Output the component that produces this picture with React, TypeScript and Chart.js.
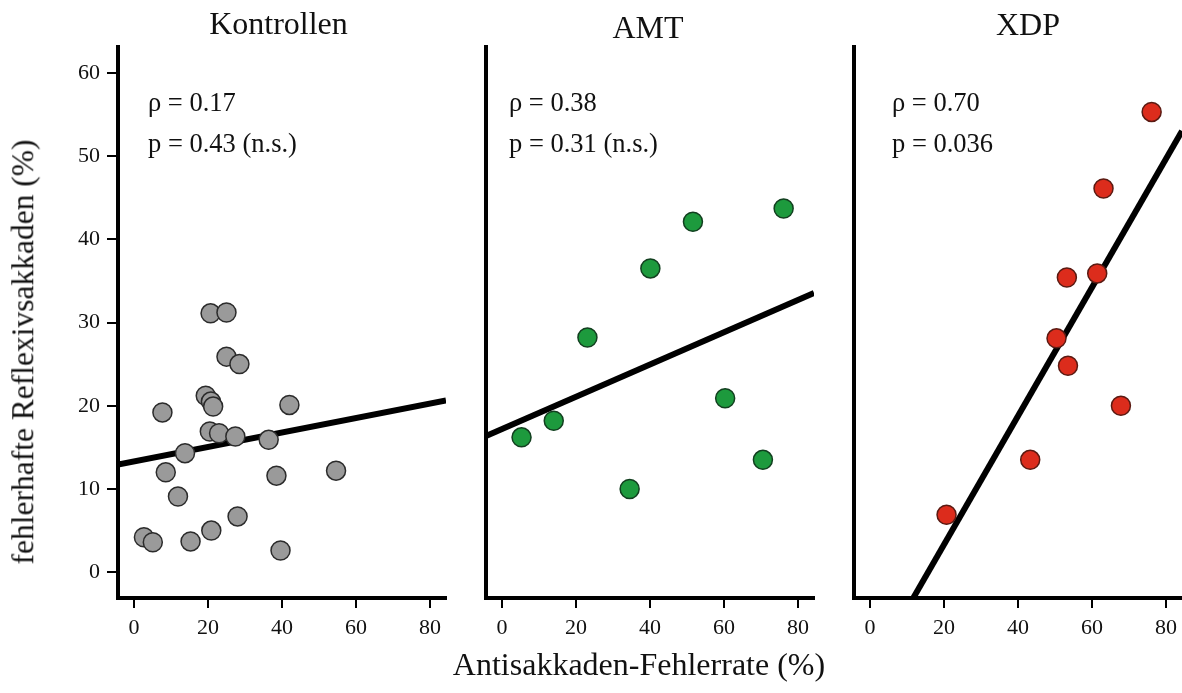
import React, { useEffect, useRef } from "react";
import { Chart, registerables } from "chart.js";

Chart.register(...registerables);

// ---------- data ----------
const xTicks = [0, 20, 40, 60, 80];
const yTicks = [0, 10, 20, 30, 40, 50, 60];
const X_MIN = -4.3;
const X_MAX = 84.3;
const Y_MIN = -3.1;
const Y_MAX = 63.1;

const kontrollenX = [20.7, 25.0, 25.0, 28.5, 19.4, 20.8, 21.4, 7.7, 42.0, 20.5, 23.0, 27.4, 36.4, 13.8, 8.6, 54.6, 38.5, 11.9, 28.0, 20.9, 2.7, 5.1, 15.3, 39.6];
const kontrollenY = [31.1, 31.2, 25.9, 25.0, 21.2, 20.5, 19.9, 19.2, 20.1, 16.9, 16.7, 16.3, 15.9, 14.3, 12.0, 12.2, 11.6, 9.1, 6.7, 5.0, 4.2, 3.6, 3.7, 2.6];

const amtX = [5.3, 14.0, 23.1, 40.1, 51.6, 76.1, 60.3, 70.5, 34.5];
const amtY = [16.2, 18.2, 28.2, 36.5, 42.1, 43.7, 20.9, 13.5, 10.0];

const xdpX = [76.1, 63.1, 53.2, 61.4, 50.4, 53.5, 67.8, 43.3, 20.7];
const xdpY = [55.3, 46.1, 35.4, 35.9, 28.1, 24.8, 20.0, 13.5, 6.9];

const panelTitles = ["Kontrollen", "AMT", "XDP"];
const rhoLabels = ["\u03C1 = 0.17", "\u03C1 = 0.38", "\u03C1 = 0.70"];
const pLabels = ["p = 0.43 (n.s.)", "p = 0.31 (n.s.)", "p = 0.036"];
const fitIntercepts = [13.3, 17.2, -12.15];
const fitSlopes = [0.087, 0.194, 0.773];
const yAxisTitle = "fehlerhafte Reflexivsakkaden (%)";
const xAxisTitle = "Antisakkaden-Fehlerrate (%)";

// ---------- layout / style ----------
const W = 1182;
const H = 693;
const PLOT_TOP = 47;
const PLOT_BOTTOM = 598;
const panelLeft = [118, 486, 854];
const panelRight = [446, 814, 1182];
const SERIF = "'Liberation Serif', 'Times New Roman', Times, serif";

const fills = ["#9a9a9a", "#1d9a3d", "#dc2c1c"];
const strokes = ["#2b2b2b", "#123f1f", "#5a1a12"];

const titleCenters = [278.5, 648, 1028];
const titleBaselines = [33.3, 37.5, 35.2];
const annotLeft = [148, 509, 892];
const annotBaselines = [111, 152];

type PanelProps = { idx: number; xs: number[]; ys: number[] };

function Panel({ idx, xs, ys }: PanelProps) {
  const ref = useRef<HTMLCanvasElement | null>(null);
  useEffect(() => {
    if (!ref.current) return;
    const showY = idx === 0;
    const pts = xs.map((x, i) => ({ x, y: ys[i] }));
    const b = fitIntercepts[idx];
    const m = fitSlopes[idx];
    let x0 = X_MIN;
    if (b + m * x0 < Y_MIN) x0 = (Y_MIN - b) / m;
    let x1 = X_MAX;
    if (b + m * x1 > Y_MAX) x1 = (Y_MAX - b) / m;
    const fit = [
      { x: x0, y: b + m * x0 },
      { x: x1, y: b + m * x1 },
    ];
    const left = panelLeft[idx];
    const right = panelRight[idx];
    const chart = new Chart(ref.current, {
      type: "scatter",
      data: {
        datasets: [
          {
            data: pts,
            backgroundColor: fills[idx],
            borderColor: strokes[idx],
            borderWidth: 1.5,
            pointRadius: 9.5,
            pointHoverRadius: 9.5,
            order: 0,
          } as any,
          {
            type: "line",
            data: fit,
            borderColor: "#000",
            borderWidth: 6,
            pointRadius: 0,
            pointHoverRadius: 0,
            fill: false,
            borderCapStyle: "butt",
            order: 1,
          } as any,
        ],
      },
      options: {
        responsive: false,
        animation: false,
        devicePixelRatio: 1,
        events: [],
        layout: {
          autoPadding: false,
          padding: { left: showY ? 0 : left, right: W - right, top: PLOT_TOP, bottom: 0 },
        },
        plugins: {
          legend: { display: false },
          tooltip: { enabled: false },
          title: { display: false },
        },
        scales: {
          x: {
            type: "linear",
            min: X_MIN,
            max: X_MAX,
            afterBuildTicks: (s: any) => {
              s.ticks = xTicks.map((v) => ({ value: v }));
            },
            afterFit: (s: any) => {
              s.height = H - PLOT_BOTTOM;
              s.paddingLeft = 0;
              s.paddingRight = 0;
            },
            grid: {
              display: true,
              drawOnChartArea: false,
              drawTicks: true,
              tickLength: 10,
              tickWidth: 2,
              tickColor: "#000",
              color: "#000",
              lineWidth: 2,
            },
            border: { display: true, width: 4, color: "#000" },
            ticks: {
              color: "#111",
              font: { family: SERIF, size: 22 },
              padding: 7,
              maxRotation: 0,
              autoSkip: false,
            },
          },
          y: {
            type: "linear",
            min: Y_MIN,
            max: Y_MAX,
            afterBuildTicks: (s: any) => {
              s.ticks = yTicks.map((v) => ({ value: v }));
            },
            afterFit: (s: any) => {
              s.width = showY ? left : 0;
              s.paddingTop = 0;
              s.paddingBottom = 0;
            },
            grid: {
              display: showY,
              drawOnChartArea: false,
              drawTicks: true,
              tickLength: 11,
              tickWidth: 2,
              tickColor: "#000",
              color: "#000",
              lineWidth: 2,
            },
            border: { display: true, width: 4, color: "#000" },
            ticks: {
              display: showY,
              color: "#111",
              font: { family: SERIF, size: 22 },
              padding: 7,
              autoSkip: false,
            },
          },
        },
      } as any,
    });
    return () => chart.destroy();
  }, []);
  return (
    <canvas
      ref={ref}
      width={W}
      height={H}
      style={{ position: "absolute", left: 0, top: 0, width: W, height: H }}
    />
  );
}

const textBase: React.CSSProperties = {
  position: "absolute",
  fontFamily: SERIF,
  color: "#111",
  lineHeight: 1,
  whiteSpace: "nowrap",
  margin: 0,
};

export default function App() {
  const series: [number[], number[]][] = [
    [kontrollenX, kontrollenY],
    [amtX, amtY],
    [xdpX, xdpY],
  ];
  return (
    <div
      style={{
        position: "absolute",
        left: 0,
        top: 0,
        width: W,
        height: H,
        background: "#fff",
        overflow: "hidden",
      }}
    >
      {series.map(([xs, ys], i) => (
        <Panel key={i} idx={i} xs={xs} ys={ys} />
      ))}
      {panelTitles.map((t, i) => (
        <div
          key={"t" + i}
          style={{
            ...textBase,
            fontSize: 32,
            left: titleCenters[i],
            top: titleBaselines[i] - 0.8375 * 32,
            transform: "translateX(-50%)",
          }}
        >
          {t}
        </div>
      ))}
      {rhoLabels.map((t, i) => (
        <div
          key={"r" + i}
          style={{ ...textBase, fontSize: 26.5, left: annotLeft[i], top: annotBaselines[0] - 0.8375 * 26.5 }}
        >
          {t}
        </div>
      ))}
      {pLabels.map((t, i) => (
        <div
          key={"p" + i}
          style={{ ...textBase, fontSize: 26.5, left: annotLeft[i], top: annotBaselines[1] - 0.8375 * 26.5 }}
        >
          {t}
        </div>
      ))}
      <div
        style={{
          ...textBase,
          fontSize: 32,
          left: 639,
          top: 675 - 0.8375 * 32,
          transform: "translateX(-50%)",
        }}
      >
        {xAxisTitle}
      </div>
      <div
        style={{
          ...textBase,
          fontSize: 31.5,
          left: 23,
          top: 352,
          transform: "translate(-50%, -50%) rotate(-90deg)",
        }}
      >
        {yAxisTitle}
      </div>
    </div>
  );
}
